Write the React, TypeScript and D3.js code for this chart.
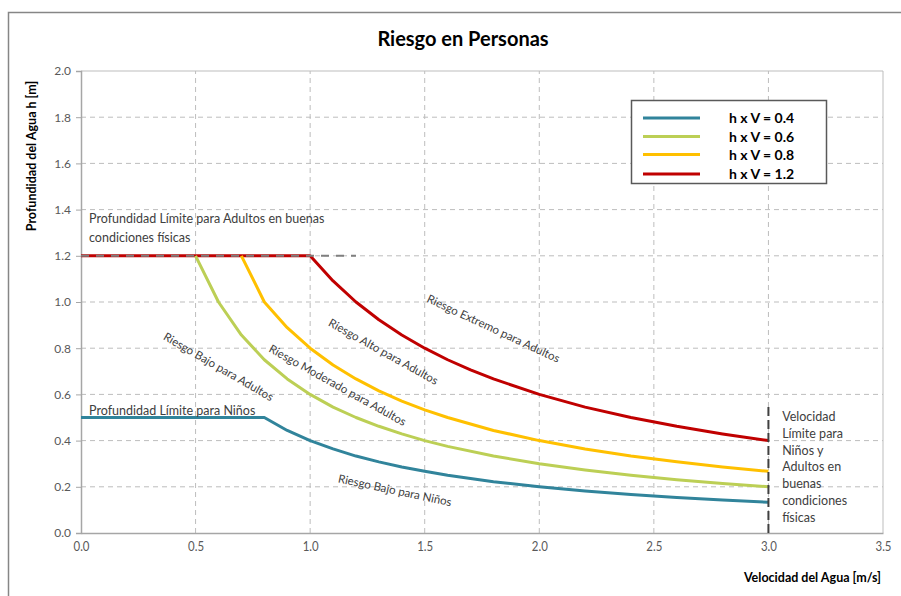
import { useEffect, useRef } from 'react';
import * as d3 from 'd3';

// velocities (m/s) and depths (m)
const v04 = [0, 0.8, 0.9, 1.0, 1.1, 1.2, 1.3, 1.4, 1.5, 1.6, 1.8, 2.0, 2.2, 2.4, 2.6, 2.8, 3.0];
const h04 = [0.5, 0.5, 0.444, 0.4, 0.364, 0.333, 0.308, 0.286, 0.267, 0.25, 0.222, 0.2, 0.182, 0.167, 0.154, 0.143, 0.133];
const v06 = [0.5, 0.6, 0.7, 0.8, 0.9, 1.0, 1.1, 1.2, 1.3, 1.4, 1.5, 1.6, 1.8, 2.0, 2.2, 2.4, 2.6, 2.8, 3.0];
const h06 = [1.2, 1.0, 0.857, 0.75, 0.667, 0.6, 0.545, 0.5, 0.462, 0.429, 0.4, 0.375, 0.333, 0.3, 0.273, 0.25, 0.231, 0.214, 0.2];
const v08 = [0.7, 0.8, 0.9, 1.0, 1.1, 1.2, 1.3, 1.4, 1.5, 1.6, 1.8, 2.0, 2.2, 2.4, 2.6, 2.8, 3.0];
const h08 = [1.2, 1.0, 0.889, 0.8, 0.727, 0.667, 0.615, 0.571, 0.533, 0.5, 0.444, 0.4, 0.364, 0.333, 0.308, 0.286, 0.267];
const v12 = [0, 1.0, 1.1, 1.2, 1.3, 1.4, 1.5, 1.6, 1.7, 1.8, 2.0, 2.2, 2.4, 2.6, 2.8, 3.0];
const h12 = [1.2, 1.2, 1.091, 1.0, 0.923, 0.857, 0.8, 0.75, 0.706, 0.667, 0.6, 0.545, 0.5, 0.462, 0.429, 0.4];

const seriesNames = ['h x V = 0.4', 'h x V = 0.6', 'h x V = 0.8', 'h x V = 1.2'];
const seriesColors = ['#31849b', '#bccf55', '#ffc000', '#c00000'];

const xTicks = [0, 0.5, 1.0, 1.5, 2.0, 2.5, 3.0, 3.5];
const yTicks = [0, 0.2, 0.4, 0.6, 0.8, 1.0, 1.2, 1.4, 1.6, 1.8, 2.0];

// reference lines
const adultLimitV = [0, 1.2];
const adultLimitH = [1.2, 1.2];
const speedLimitV = [3.0, 3.0];
const speedLimitH = [0, 0.55];

// rotated zone labels: [text, v, h, angle]
const zoneLabels: [string, number, number, number][] = [
  ['Riesgo Bajo para Adultos', 0.6, 0.72, 30],
  ['Riesgo Moderado para Adultos', 1.12, 0.64, 29],
  ['Riesgo Alto para Adultos', 1.32, 0.785, 29],
  ['Riesgo Extremo para Adultos', 1.8, 0.885, 25],
  ['Riesgo Bajo para Niños', 1.37, 0.185, 12],
];

const speedNote = ['Velocidad', 'Límite para', 'Niños y', 'Adultos en', 'buenas', 'condiciones', 'físicas'];

export default function App() {
  const svgRef = useRef<SVGSVGElement>(null);
  const width = 901;
  const height = 596;

  useEffect(() => {
    if (!svgRef.current) return;
    const svg = d3.select(svgRef.current);
    svg.selectAll('*').remove();

    const font = 'Lato, Calibri, sans-serif';
    const x = d3.scaleLinear().domain([0, 3.5]).range([81, 883]);
    const y = d3.scaleLinear().domain([0, 2]).range([533, 71]);

    svg.append('rect').attr('width', width).attr('height', height).attr('fill', '#fff');
    // chart area border
    svg.append('rect')
      .attr('x', 8.5).attr('y', 12.5).attr('width', 1000).attr('height', 1000)
      .attr('fill', 'none').attr('stroke', '#868686').attr('stroke-width', 1.5);

    // title
    svg.append('text')
      .attr('x', 463).attr('y', 46)
      .attr('text-anchor', 'middle')
      .attr('font-family', font).attr('font-weight', 'bold').attr('font-size', 20)
      .attr('fill', '#000')
      .text('Riesgo en Personas');

    // grid
    const grid = svg.append('g');
    grid.selectAll('.gy')
      .data(yTicks.filter((t) => t > 0 && t < 2))
      .enter().append('line')
      .attr('x1', x(0)).attr('x2', x(3.5))
      .attr('y1', (d) => y(d)).attr('y2', (d) => y(d))
      .attr('stroke', '#bdbdbd').attr('stroke-dasharray', '5,4');
    grid.selectAll('.gx')
      .data(xTicks.filter((t) => t > 0 && t < 3.5))
      .enter().append('line')
      .attr('y1', y(0)).attr('y2', y(2))
      .attr('x1', (d) => x(d)).attr('x2', (d) => x(d))
      .attr('stroke', '#bdbdbd').attr('stroke-dasharray', '5,4');
    // plot frame top/right
    svg.append('path')
      .attr('d', `M${x(0)},${y(2)}H${x(3.5)}V${y(0)}`)
      .attr('fill', 'none').attr('stroke', '#bdbdbd').attr('stroke-width', 1);

    // axes
    const yAxis = svg.append('g')
      .attr('transform', `translate(${x(0)},0)`)
      .call(d3.axisLeft(y).tickValues(yTicks).tickSize(5).tickFormat(d3.format('.1f')));
    yAxis.select('.domain').attr('stroke', '#a6a6a6').attr('stroke-width', 1.5);
    yAxis.selectAll('.tick line').attr('stroke', '#a6a6a6');
    yAxis.selectAll('.tick text')
      .attr('font-family', font).attr('font-size', 12).attr('fill', '#595959').attr('dx', -2);

    const xAxis = svg.append('g')
      .attr('transform', `translate(0,${y(0)})`)
      .call(d3.axisBottom(x).tickValues(xTicks).tickSize(0).tickFormat(d3.format('.1f')));
    xAxis.select('.domain').attr('stroke', '#a6a6a6').attr('stroke-width', 1.5);
    // condensed look: scale label glyphs horizontally only
    xAxis.selectAll('.tick text')
      .attr('font-family', font)
      .attr('font-size', 13).attr('fill', '#595959').attr('dy', '1.15em')
      .attr('transform', 'scale(0.88,1)');

    // axis titles
    svg.append('text')
      .attr('transform', `translate(36,156) rotate(-90)`)
      .attr('text-anchor', 'middle')
      .attr('font-family', font).attr('font-weight', 'bold').attr('font-size', 12.5)
      .attr('fill', '#000')
      .text('Profundidad del Agua  h [m]');
    svg.append('text')
      .attr('x', 881).attr('y', 582)
      .attr('text-anchor', 'end')
      .attr('font-family', font).attr('font-weight', 'bold').attr('font-size', 12.5)
      .attr('fill', '#000')
      .text('Velocidad del Agua [m/s]');

    const line = d3.line<[number, number]>().x((d) => x(d[0])).y((d) => y(d[1]));
    const series = [
      d3.zip(v04, h04),
      d3.zip(v06, h06),
      d3.zip(v08, h08),
      d3.zip(v12, h12),
    ] as [number, number][][];

    [3, 2, 1, 0].forEach((i) => {
      svg.append('path')
        .attr('d', line(series[i]))
        .attr('fill', 'none')
        .attr('stroke', seriesColors[i])
        .attr('stroke-width', 3)
        .attr('stroke-linejoin', 'round');
    });

    // reference dashed lines
    svg.append('path')
      .attr('d', line(d3.zip(adultLimitV, adultLimitH) as [number, number][]))
      .attr('stroke', '#7f7f7f').attr('stroke-width', 2).attr('stroke-dasharray', '8,7')
      .attr('fill', 'none');
    svg.append('path')
      .attr('d', line(d3.zip(speedLimitV, speedLimitH) as [number, number][]))
      .attr('stroke', '#404040').attr('stroke-width', 2).attr('stroke-dasharray', '9,4')
      .attr('fill', 'none');

    // annotations
    const note = svg.append('g')
      .attr('font-family', font).attr('font-size', 12.5).attr('fill', '#404040');
    note.append('text').attr('x', x(0.035)).attr('y', y(1.34)).text('Profundidad Límite para Adultos en buenas');
    note.append('text').attr('x', x(0.035)).attr('y', y(1.26)).text('condiciones físicas');
    note.append('text').attr('x', x(0.035)).attr('y', y(0.51)).text('Profundidad Límite para Niños');
    speedNote.forEach((s, i) => {
      note.append('text')
        .attr('x', x(3.06))
        .attr('y', 421 + i * 16.8)
        .text(s);
    });
    zoneLabels.forEach(([t, v, h, a]) => {
      note.append('text')
        .attr('transform', `translate(${x(v)},${y(h)}) rotate(${a})`)
        .attr('text-anchor', 'middle')
        .attr('dy', '0.35em')
        .attr('font-size', 11.5)
        .text(t);
    });

    // legend
    const lg = svg.append('g');
    lg.append('rect')
      .attr('x', 631.5).attr('y', 100.5).attr('width', 195).attr('height', 83)
      .attr('fill', '#fff').attr('stroke', '#595959').attr('stroke-width', 1.5);
    const rowY = [118, 136.5, 154.5, 174];
    seriesNames.forEach((n, i) => {
      lg.append('line')
        .attr('x1', 643).attr('x2', 700)
        .attr('y1', rowY[i]).attr('y2', rowY[i])
        .attr('stroke', seriesColors[i]).attr('stroke-width', 3);
      lg.append('text')
        .attr('x', 729).attr('y', rowY[i] + 5)
        .attr('font-family', font).attr('font-weight', 'bold').attr('font-size', 14)
        .attr('fill', '#000')
        .text(n);
    });
  }, []);

  return (
    <svg
      ref={svgRef}
      width={width}
      height={height}
      style={{ position: 'absolute', left: 0, top: 0 }}
    />
  );
}
